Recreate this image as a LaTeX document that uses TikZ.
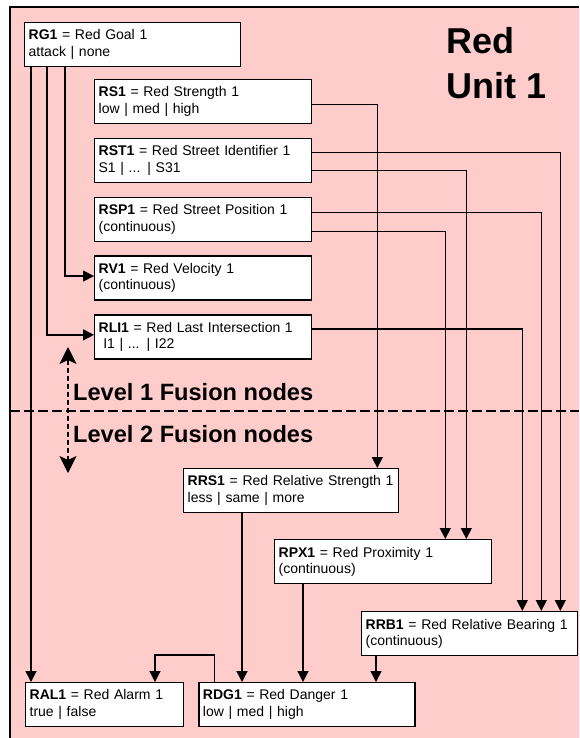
\documentclass[tikz,border=0pt]{standalone}
\usepackage{fontspec}
\setmainfont{Liberation Sans}
\usepackage{xcolor}
\usetikzlibrary{arrows.meta,positioning}
\definecolor{unitpink}{RGB}{255,204,204}

\begin{document}
\begin{tikzpicture}[
    x=1pt, y=1pt,
    node distance=13.5pt,
    box/.style={draw=black, line width=1.3pt, fill=white, align=left, anchor=north west, minimum height=44pt, text width=209pt, inner xsep=4pt, inner ysep=2pt, font=\fontsize{14}{16.5}\selectfont},
    arrow/.style={-{Triangle[length=11pt,width=11pt]}, line width=1.3pt},
    levelarrow/.style={{Stealth[length=17pt,width=17pt,inset=4pt]}-{Stealth[length=17pt,width=17pt,inset=4pt]}, line width=1.2pt, dash pattern=on 5pt off 3pt},
    heading/.style={font=\bfseries\fontsize{23.6}{27}\selectfont, anchor=base west, inner sep=0pt}
]
\useasboundingbox (0,0) rectangle (579,-738);
\fill[unitpink] (10,-7) rectangle (579,-738);
\draw[line width=2pt] (10,-738) -- (10,-7) -- (579,-7);

\node[font=\bfseries\fontsize{36}{45}\selectfont, align=left, anchor=north west, inner sep=0pt] (title) at (446,-27.5) {Red\\Unit 1};

\node[box, text width=208pt] (RG1) at (24,-22) {\textbf{RG1} = Red Goal 1\\attack | none};
\node[box] (RS1) at (94,-79) {\textbf{RS1} = Red Strength 1\\low | med | high};
\node[box, below=of RS1] (RST1) {\textbf{RST1} = Red Street Identifier 1\\S1 | ... | S31};
\node[box, below=of RST1] (RSP1) {\textbf{RSP1} = Red Street Position 1\\(continuous)};
\node[box, below=of RSP1] (RV1) {\textbf{RV1} = Red Velocity 1\\(continuous)};
\node[box, below=of RV1] (RLI1) {\textbf{RLI1} = Red Last Intersection 1\\\ I1 | ... | I22};

\node[box, text width=207pt] (RRS1) at (183,-468) {\textbf{RRS1} = Red Relative Strength 1\\less | same | more};
\node[box] (RPX1) at (274,-539) {\textbf{RPX1} = Red Proximity 1\\(continuous)};
\node[box, text width=208pt] (RRB1) at (361,-611) {\textbf{RRB1} = Red Relative Bearing 1\\(continuous)};
\node[box, text width=150pt] (RAL1) at (25,-682) {\textbf{RAL1} = Red Alarm 1\\true | false};
\node[box, text width=208pt, right=14pt of RAL1.north east, anchor=north west] (RDG1) {\textbf{RDG1} = Red Danger 1\\low | med | high};

\node[heading] (lev1) at (73,-400) {Level 1 Fusion nodes};
\node[heading] (lev2) at (73,-442) {Level 2 Fusion nodes};
\coordinate (sepL) at (10,-411);
\coordinate (sepR) at (579,-411);
\draw[line width=1.8pt, dash pattern=on 10pt off 4pt] (sepL) -- (sepR);
\coordinate (lvup) at (68,-347);
\coordinate (lvdown) at (68,-473);
\draw[levelarrow] (lvup) -- (lvdown);

\draw[arrow] ([xshift=7pt]RG1.south west) -- ([xshift=7pt]RG1.south west |- RAL1.north);
\draw[arrow] ([xshift=23pt]RG1.south west) |- ([yshift=2pt]RLI1.west);
\draw[arrow] ([xshift=41pt]RG1.south west) |- ([yshift=2pt]RV1.west);
\draw[arrow] ([yshift=-3pt]RS1.east) -| ([xshift=-22pt]RRS1.north east);
\draw[arrow] ([yshift=8pt]RST1.east) -| ([xshift=-18pt]RRB1.north east);
\draw[arrow] ([yshift=-10pt]RST1.east) -| ([xshift=-26pt]RPX1.north east);
\draw[arrow] ([yshift=7pt]RSP1.east) -| ([xshift=-37pt]RRB1.north east);
\draw[arrow] ([yshift=-12pt]RSP1.east) -| ([xshift=-47pt]RPX1.north east);
\draw[arrow] ([yshift=8pt]RLI1.east) -| ([xshift=-56pt]RRB1.north east);
\draw[arrow] ([xshift=59pt]RRS1.south west) -- ([xshift=59pt]RRS1.south west |- RDG1.north);
\draw[arrow] ([xshift=29pt]RPX1.south west) -- ([xshift=29pt]RPX1.south west |- RDG1.north);
\draw[arrow] ([xshift=15pt]RRB1.south west) -- ([xshift=15pt]RRB1.south west |- RDG1.north);
\draw[arrow] ([xshift=16pt]RDG1.north west) -- ++(0,27pt) -| ([xshift=130pt]RAL1.north west);
\end{tikzpicture}
\end{document}
